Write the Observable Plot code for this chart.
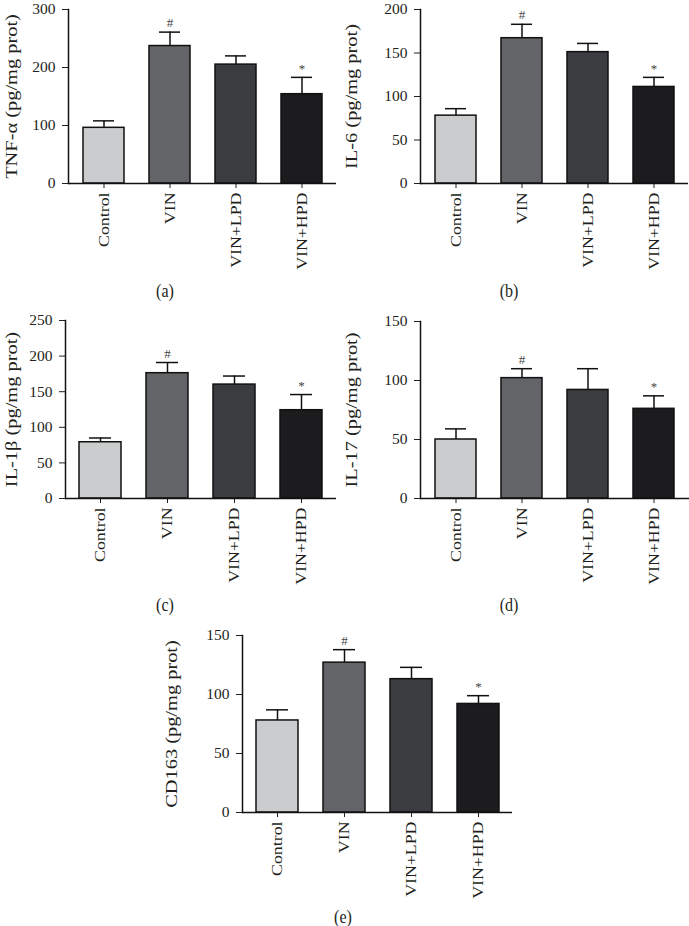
<!DOCTYPE html>
<html><head><meta charset="utf-8">
<script src="https://cdn.jsdelivr.net/npm/d3@7"></script>
<script src="https://cdn.jsdelivr.net/npm/@observablehq/plot@0.6"></script>
<style>
body{margin:0;background:#fff}
#fig{position:relative;width:689px;height:926px;font-family:"Liberation Serif",serif;color:#231f20;background:#fff}
.panel{position:absolute}
.lab{position:absolute;font-size:16px;transform:translate(-50%,-50%) scale(1,1.12);white-space:nowrap}
</style>
</head><body><div id="fig"></div>
<script>
const groups = ["Control", "VIN", "VIN+LPD", "VIN+HPD"];
const colors = ["#cbcccd", "#636468", "#3b3c40", "#1c1c1e"];
const marks = ["", "#", "", "*"];

const tnfMean = [96, 237, 205, 154];
const tnfErr  = [12, 24, 15, 29];
const il6Mean = [78, 167, 151, 111];
const il6Err  = [8, 16, 10, 11];
const il1Mean = [79, 176, 160, 124];
const il1Err  = [6, 15, 12, 22];
const il17Mean = [50, 102, 92, 76];
const il17Err  = [9, 8, 18, 11];
const cdMean = [78, 127, 113, 92];
const cdErr  = [9, 11, 10, 7];

const tnfTicks = [0, 100, 200, 300];
const il6Ticks = [0, 50, 100, 150, 200];
const il1Ticks = [0, 50, 100, 150, 200, 250];
const il17Ticks = [0, 50, 100, 150];
const cdTicks = [0, 50, 100, 150];

const panels = [
  {id:"(a)", label:"TNF-α (pg/mg prot)", mean:tnfMean, err:tnfErr, ticks:tnfTicks,
   left:0, top:0, width:340, height:285, mt:9, mb:102, ml:68, mr:4, lx:165, ly:291},
  {id:"(b)", label:"IL-6 (pg/mg prot)", mean:il6Mean, err:il6Err, ticks:il6Ticks,
   left:340, top:0, width:349, height:285, mt:9, mb:102, ml:80, mr:1, lx:509, ly:291},
  {id:"(c)", label:"IL-1β (pg/mg prot)", mean:il1Mean, err:il1Err, ticks:il1Ticks,
   left:0, top:300, width:340, height:285, mt:20, mb:87, ml:65, mr:4, lx:165, ly:605},
  {id:"(d)", label:"IL-17 (pg/mg prot)", mean:il17Mean, err:il17Err, ticks:il17Ticks,
   left:340, top:300, width:349, height:285, mt:21, mb:87, ml:80, mr:0, lx:509, ly:605},
  {id:"(e)", label:"CD163 (pg/mg prot)", mean:cdMean, err:cdErr, ticks:cdTicks,
   left:160, top:615, width:360, height:285, mt:20, mb:88, ml:82, mr:8, lx:343, ly:917}
];

const fig = document.getElementById("fig");
for (const p of panels) {
  const data = groups.map((g, i) => ({g, m: p.mean[i], e: p.err[i], mark: marks[i]}));
  const ymax = p.ticks[p.ticks.length - 1];
  const chart = Plot.plot({
    width: p.width, height: p.height,
    marginTop: p.mt, marginBottom: p.mb, marginLeft: p.ml, marginRight: p.mr,
    style: {fontFamily: "Liberation Serif, serif", fontSize: "15.5px", color: "#231f20", background: "transparent", overflow: "visible"},
    x: {domain: groups, paddingInner: 0.38, paddingOuter: 0.2, label: null, tickSize: 5, tickRotate: -90, tickPadding: 4},
    y: {domain: [0, ymax], ticks: p.ticks, tickSize: 6, tickPadding: 7, label: p.label, labelAnchor: "center", labelOffset: p.ml - 4, labelArrow: "none"},
    color: {domain: groups, range: colors},
    marks: [
      Plot.ruleX(data, {x: "g", y1: "m", y2: d => d.m + d.e, stroke: "#111", strokeWidth: 1.5}),
      Plot.tickY(data, {x: "g", y: d => d.m + d.e, insetLeft: 10, insetRight: 10, stroke: "#111", strokeWidth: 1.5}),
      Plot.barY(data, {x: "g", y: "m", fill: "g", stroke: "#111", strokeWidth: 1.5}),
      Plot.ruleY([0], {stroke: "#111", strokeWidth: 1.5}),
      Plot.frame({anchor: "left", stroke: "#111", strokeWidth: 1.5}),
      Plot.text(data.filter(d => d.mark), {x: "g", y: d => d.m + d.e, text: "mark", dy: -9, fontSize: 13, fill: "#444"})
    ]
  });
  chart.querySelectorAll('[aria-label="x-axis tick label"] text').forEach(t => {
    t.setAttribute("transform", (t.getAttribute("transform") || "") + " scale(1.15,1)");
  });
  chart.querySelectorAll('[aria-label="y-axis label"] text').forEach(t => {
    t.setAttribute("transform", (t.getAttribute("transform") || "") + " scale(1.2,1)");
    t.setAttribute("font-size", "17");
  });
  const wrap = document.createElement("div");
  wrap.className = "panel";
  wrap.style.left = p.left + "px";
  wrap.style.top = p.top + "px";
  wrap.appendChild(chart);
  fig.appendChild(wrap);
  const lab = document.createElement("div");
  lab.className = "lab";
  lab.style.left = p.lx + "px";
  lab.style.top = p.ly + "px";
  lab.textContent = p.id;
  fig.appendChild(lab);
}
</script>
</body></html>
